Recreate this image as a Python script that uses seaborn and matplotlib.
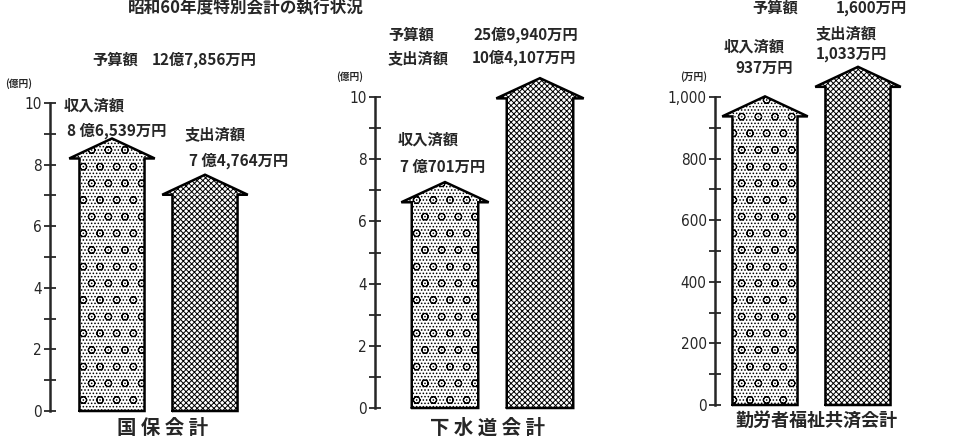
import matplotlib
matplotlib.use("Agg")
import matplotlib.pyplot as plt
import seaborn as sns
import numpy as np

# values
kinds = ["収入済額", "支出済額"]
kokuho_vals = [8.6539, 7.4764]        # 億円
gesuido_vals = [7.0701, 10.4107]      # 億円
kinro_vals = [937, 1033]              # 万円
panel_names = ["国 保 会 計", "下 水 道 会 計", "勤労者福祉共済会計"]
panel_units = ["(億円)", "(億円)", "(万円)"]
kokuho_ticks = [0, 2, 4, 6, 8, 10]
gesuido_ticks = [0, 2, 4, 6, 8, 10]
kinro_ticks = [0, 200, 400, 600, 800, 1000]
kinro_tick_labels = ["0", "200", "400", "600", "800", "1,000"]

sns.set_style("white")
plt.rcParams['font.family'] = ['Noto Sans CJK JP', 'DejaVu Sans']
plt.rcParams['hatch.linewidth'] = 0.7

W, H = 960, 443
fig = plt.figure(figsize=(9.6, 4.43), dpi=100)

def px(x, y):
    return x / W, 1 - y / H

hatches = ["o.....", "xxxxxx"]

def panel(vals, ticks, ticklabels, ymax, minor, axis_x, y0, y1, c0, sep, head_shift):
    # axes placed so that the y spine sits at axis_x and data 0..ymax spans y0..y1 (pixels)
    left_units = (c0 - axis_x) / sep
    xr = 2.3
    ax = fig.add_axes([axis_x / W, 1 - y0 / H, xr * sep / W, (y0 - y1) / H])
    sns.barplot(x=kinds, y=vals, hue=kinds, palette=["white", "white"], legend=False,
                width=0.7, ax=ax)
    hh = ymax * 0.065
    bases = [v + head_shift * hh for v in vals]
    for p, h, b in zip(ax.patches, hatches, bases):
        p.set_hatch(h)
        p.set_edgecolor("black")
        p.set_linewidth(0)
        p.set_height(b)
        p.set_clip_on(False)
    for i, base in enumerate(bases):
        tip = base + hh
        bw, hw = 0.35, 0.46
        ax.fill([i - hw, i, i + hw], [base, tip, base], facecolor="white",
                edgecolor="black", hatch=hatches[i], linewidth=0, clip_on=False, zorder=3)
        ax.plot([i - bw, i - bw, i - hw, i, i + hw, i + bw, i + bw, i - bw],
                [0, base, base, tip, base, base, 0, 0], color="black", lw=1.8,
                clip_on=False, zorder=4, solid_joinstyle="miter")
    ax.set_xlim(-left_units, xr - left_units)
    ax.set_ylim(0, ymax)
    ax.set_yticks(ticks)
    ax.set_yticklabels(ticklabels, fontsize=11, family="DejaVu Sans", stretch="condensed")
    ax.set_yticks(np.arange(0, ymax + minor / 2, minor), minor=True)
    ax.tick_params(axis="y", which="both", direction="inout", length=8, width=1.3, left=True, pad=2)
    ax.set_xticks([])
    ax.set_xlabel("")
    ax.set_ylabel("")
    for s in ["top", "right", "bottom"]:
        ax.spines[s].set_visible(False)
    ax.spines["left"].set_linewidth(1.8)
    ax.patch.set_alpha(0)
    return ax

panel(kokuho_vals, kokuho_ticks, [str(t) for t in kokuho_ticks], 10, 1, 50, 411, 103, 112, 93, -0.7)
panel(gesuido_vals, gesuido_ticks, [str(t) for t in gesuido_ticks], 10, 1, 375, 408, 97, 445, 95, -0.7)
panel(kinro_vals, kinro_ticks, kinro_tick_labels, 1000, 100, 715, 405, 97, 765, 93, 0.0)

def txt(x, y, s, size=11, ha="left", weight="bold", **kw):
    fig.text(*px(x, y), s, fontsize=size, ha=ha, va="center", weight=weight, **kw)

# title (cut off at the top in the scan)
fig.text(*px(128, 0), "昭和60年度特別会計の執行状況", fontsize=12, weight="bold", va="top")

# panel 1
txt(92, 60, "予算額")
txt(152, 60, "12億7,856万円")
txt(5, 84, panel_units[0], size=7)
txt(64, 106, "収入済額")
txt(67, 131, "8 億6,539万円")
txt(185, 134, "支出済額")
txt(189, 161, "7 億4,764万円")
txt(163, 428, panel_names[0], size=14, ha="center")

# panel 2
txt(388, 35, "予算額")
txt(474, 35, "25億9,940万円")
txt(388, 58, "支出済額")
txt(472, 58, "10億4,107万円")
txt(336, 77, panel_units[1], size=7)
txt(398, 140, "収入済額")
txt(400, 167, "7 億701万円")
txt(487, 428, panel_names[1], size=14, ha="center")

# panel 3
txt(752, 8, "予算額")
txt(836, 8, "1,600万円")
txt(816, 33, "支出済額")
txt(816, 54, "1,033万円")
txt(724, 47, "収入済額")
txt(735, 68, "937万円")
txt(680, 77, panel_units[2], size=7)
txt(816, 420, panel_names[2], size=13, ha="center")

fig.savefig("out.png", dpi=100)
